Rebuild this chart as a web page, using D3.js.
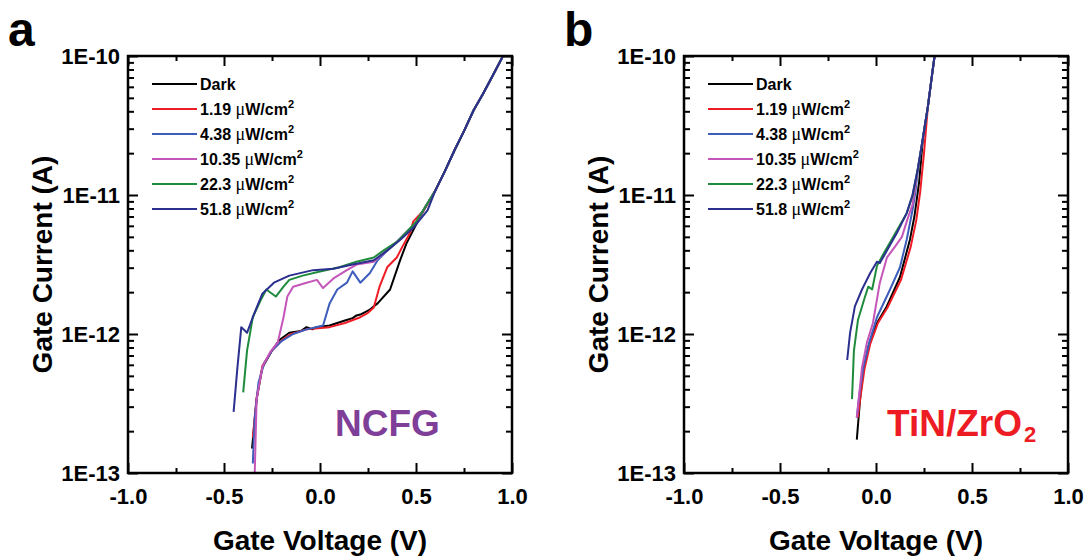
<!DOCTYPE html>
<html>
<head>
<meta charset="utf-8">
<script src="https://cdn.jsdelivr.net/npm/d3@7"></script>
<style>
    body { margin: 0; background: #fff; }
    svg { display: block; font-family: "Liberation Sans", Arial, sans-serif; font-weight: bold; }
</style>
</head>
<body>
<svg id="chart" width="1089" height="560"></svg>
<script>
"use strict";

// legend / series
const seriesNames = ['Dark', '1.19', '4.38', '10.35', '22.3', '51.8'];
const seriesColors = ['#000000', '#ee1c25', '#3d5dbb', '#c456b9', '#1e8b3c', '#2b2f8e'];

// axis ticks
const xMajor = [-1.0, -0.5, 0.0, 0.5, 1.0];
const xMinor = [-0.75, -0.25, 0.25, 0.75];
const yMajor = [1e-13, 1e-12, 1e-11, 1e-10];

// panel a (NCFG): [gate voltage V, gate current A]
const tailA = [[0.6, 1.07e-11], [0.65, 1.48e-11], [0.7, 2.09e-11], [0.75, 2.88e-11],
    [0.8, 4.07e-11], [0.85, 5.37e-11], [0.9, 7.24e-11], [0.953, 1.0e-10]];
const darkA = [[-0.354, 1.5e-13], [-0.33, 3.4e-13], [-0.30, 5.75e-13], [-0.25, 7.6e-13],
    [-0.21, 9.1e-13], [-0.16, 1.02e-12], [-0.1, 1.05e-12], [-0.07, 1.12e-12], [-0.04, 1.08e-12],
    [-0.02, 1.12e-12], [0.05, 1.15e-12], [0.13, 1.25e-12], [0.17, 1.3e-12], [0.19, 1.36e-12],
    [0.21, 1.38e-12], [0.26, 1.5e-12], [0.30, 1.66e-12], [0.365, 2.09e-12], [0.417, 3.39e-12],
    [0.45, 4.47e-12], [0.52, 6.92e-12], [0.59, 1.02e-11]];
const redA = [[-0.35, 1.8e-13], [-0.33, 3.5e-13], [-0.30, 5.9e-13], [-0.25, 7.6e-13],
    [-0.2, 9.0e-13], [-0.15, 1.0e-12], [-0.07, 1.08e-12], [0.05, 1.12e-12], [0.13, 1.2e-12],
    [0.21, 1.32e-12], [0.25, 1.42e-12], [0.28, 1.55e-12], [0.31, 2.19e-12], [0.35, 3.02e-12],
    [0.40, 3.55e-12], [0.43, 4.27e-12], [0.47, 5.37e-12], [0.486, 6.46e-12], [0.54, 7.76e-12],
    [0.57, 9.1e-12]];
const blueA = [[-0.35, 1.17e-13], [-0.34, 2.5e-13], [-0.32, 4.5e-13], [-0.29, 6.2e-13],
    [-0.25, 7.6e-13], [-0.2, 8.9e-13], [-0.14, 1.0e-12], [-0.07, 1.08e-12], [-0.02, 1.12e-12],
    [0.016, 1.15e-12], [0.05, 1.66e-12], [0.09, 2.09e-12], [0.14, 2.34e-12], [0.17, 2.82e-12],
    [0.21, 2.34e-12], [0.26, 2.75e-12], [0.30, 3.39e-12], [0.35, 3.98e-12], [0.40, 4.6e-12],
    [0.45, 5.4e-12], [0.5, 6.3e-12], [0.55, 8.3e-12]];
const magentaA = [[-0.34, 1.0e-13], [-0.33, 3.4e-13], [-0.30, 5.8e-13], [-0.26, 7.4e-13],
    [-0.22, 8.7e-13], [-0.19, 1.32e-12], [-0.17, 1.86e-12], [-0.14, 2.19e-12], [-0.07, 2.34e-12],
    [-0.016, 2.45e-12], [0.016, 2.14e-12], [0.07, 2.51e-12], [0.14, 2.88e-12], [0.19, 3.16e-12],
    [0.24, 3.24e-12], [0.28, 3.31e-12], [0.33, 3.8e-12], [0.4, 4.6e-12], [0.45, 5.4e-12],
    [0.5, 6.3e-12], [0.55, 8.3e-12]];
const greenA = [[-0.40, 3.8e-13], [-0.38, 7.6e-13], [-0.35, 1.32e-12], [-0.31, 1.74e-12],
    [-0.28, 2.09e-12], [-0.23, 1.86e-12], [-0.19, 2.19e-12], [-0.16, 2.45e-12], [-0.09, 2.63e-12],
    [0.0, 2.82e-12], [0.10, 3.02e-12], [0.19, 3.31e-12], [0.28, 3.55e-12], [0.33, 3.98e-12],
    [0.40, 4.6e-12], [0.45, 5.4e-12], [0.5, 6.4e-12], [0.55, 8.3e-12]];
const navyA = [[-0.45, 2.75e-13], [-0.43, 5.75e-13], [-0.41, 1.12e-12], [-0.38, 1.02e-12],
    [-0.35, 1.32e-12], [-0.33, 1.55e-12], [-0.30, 1.95e-12], [-0.24, 2.34e-12], [-0.16, 2.63e-12],
    [-0.036, 2.88e-12], [0.07, 2.95e-12], [0.17, 3.16e-12], [0.28, 3.39e-12], [0.35, 3.98e-12],
    [0.42, 4.79e-12], [0.49, 5.89e-12], [0.56, 7.76e-12]];

// panel b (TiN/ZrO2)
const tailB = [[0.22, 1.6e-11], [0.245, 2.6e-11], [0.27, 4.3e-11], [0.29, 7.0e-11], [0.305, 1.0e-10]];
const darkB = [[-0.10, 1.74e-13], [-0.083, 3.39e-13], [-0.068, 5.25e-13], [-0.04, 8.13e-13],
    [0.005, 1.2e-12], [0.056, 1.58e-12], [0.125, 2.57e-12], [0.177, 4.79e-12], [0.2, 7.0e-12],
    [0.225, 1.25e-11]];
const redB = [[-0.095, 2.5e-13], [-0.08, 3.6e-13], [-0.06, 5.6e-13], [-0.03, 8.5e-13],
    [0.01, 1.2e-12], [0.06, 1.55e-12], [0.13, 2.45e-12], [0.18, 4.2e-12], [0.21, 6.6e-12],
    [0.23, 1.05e-11], [0.25, 2.0e-11]];
const blueB = [[-0.10, 2.5e-13], [-0.085, 3.8e-13], [-0.065, 5.8e-13], [-0.035, 8.7e-13],
    [0.005, 1.32e-12], [0.073, 2.09e-12], [0.125, 3.02e-12], [0.16, 4.79e-12], [0.19, 7.76e-12],
    [0.205, 1.05e-11]];
const magentaB = [[-0.10, 2.5e-13], [-0.073, 5.75e-13], [-0.047, 8.7e-13], [-0.016, 1.2e-12],
    [0.02, 2.34e-12], [0.057, 3.55e-12], [0.10, 4.27e-12], [0.135, 5.0e-12], [0.167, 6.9e-12],
    [0.19, 8.5e-12], [0.205, 1.15e-11]];
const greenB = [[-0.125, 3.4e-13], [-0.115, 7.6e-13], [-0.094, 1.26e-12], [-0.057, 1.86e-12],
    [-0.04, 2.19e-12], [-0.02, 2.09e-12], [0.005, 3.09e-12], [0.04, 3.8e-12], [0.09, 5.0e-12],
    [0.16, 7.4e-12], [0.19, 9.8e-12]];
const navyB = [[-0.15, 6.5e-13], [-0.135, 1.02e-12], [-0.11, 1.58e-12], [-0.073, 2.09e-12],
    [-0.03, 2.75e-12], [0.005, 3.31e-12], [0.02, 3.24e-12], [0.057, 3.98e-12], [0.11, 5.37e-12],
    [0.16, 7.4e-12], [0.19, 1.0e-11]];

const panels = [
    { left: 128, letter: 'a', tag: 'NCFG', tagColor: '#7f3f98', tagX: 335,
      series: [darkA, redA, blueA, magentaA, greenA, navyA].map(s => s.concat(tailA)) },
    { left: 684, letter: 'b', tag: 'TiN/ZrO', tagSub: '2', tagColor: '#ed1c24', tagX: 887,
      series: [darkB, redB, blueB, magentaB, greenB, navyB].map(s => s.concat(tailB.filter(t => t[0] > s[s.length - 1][0]))) }
];

const plotTop = 56, width = 384, height = 417;
const svg = d3.select('#chart');

const x = d3.scaleLinear().domain([-1, 1]).range([0, width]);
const y = d3.scaleLog().domain([1e-13, 1e-10]).range([height, 0]);
const yMinor = [];
yMajor.slice(0, 3).forEach(d => { for (let k = 2; k < 10; k++) yMinor.push(d * k); });

const line = d3.line().x(d => x(d[0])).y(d => y(d[1]));

const styleAxis = (sel) => {
    sel.select('.domain').remove();
    sel.selectAll('line').attr('stroke', '#000').attr('stroke-width', 2);
    sel.selectAll('text').attr('fill', '#000').style('font-size', '22px')
        .style('font-family', '"Liberation Sans", Arial, sans-serif').style('font-weight', 'bold');
};

panels.forEach((p, pi) => {
    const g = svg.append('g').attr('transform', `translate(${p.left},${plotTop})`);

    g.append('clipPath').attr('id', `clip${pi}`)
        .append('rect').attr('width', width).attr('height', height);

    // axes, ticks pointing inward on all four sides
    g.append('g').attr('transform', `translate(0,${height})`)
        .call(d3.axisBottom(x).tickValues(xMajor).tickSize(-10).tickPadding(15)
            .tickFormat(d => d.toFixed(1)))
        .call(styleAxis);
    g.append('g').attr('transform', `translate(0,${height})`)
        .call(d3.axisBottom(x).tickValues(xMinor).tickSize(-5).tickFormat(''))
        .call(styleAxis);
    g.append('g')
        .call(d3.axisTop(x).tickValues(xMajor).tickSize(-10).tickFormat(''))
        .call(styleAxis);
    g.append('g')
        .call(d3.axisTop(x).tickValues(xMinor).tickSize(-5).tickFormat(''))
        .call(styleAxis);
    g.append('g')
        .call(d3.axisLeft(y).tickValues(yMajor).tickSize(-10).tickPadding(8)
            .tickFormat(d => '1E' + Math.round(Math.log10(d))))
        .call(styleAxis);
    g.append('g')
        .call(d3.axisLeft(y).tickValues(yMinor).tickSize(-6).tickFormat(''))
        .call(styleAxis);
    g.append('g').attr('transform', `translate(${width},0)`)
        .call(d3.axisRight(y).tickValues(yMajor).tickSize(-10).tickFormat(''))
        .call(styleAxis);
    g.append('g').attr('transform', `translate(${width},0)`)
        .call(d3.axisRight(y).tickValues(yMinor).tickSize(-6).tickFormat(''))
        .call(styleAxis);

    // curves
    g.append('g').attr('clip-path', `url(#clip${pi})`)
        .selectAll('path')
        .data(p.series)
        .enter()
        .append('path')
        .attr('d', line)
        .attr('fill', 'none')
        .attr('stroke', (d, i) => seriesColors[i])
        .attr('stroke-width', 2)
        .attr('stroke-linejoin', 'round');

    g.append('rect')
        .attr('width', width).attr('height', height)
        .attr('fill', 'none').attr('stroke', '#000').attr('stroke-width', 2.5);

    // legend
    const legend = g.selectAll('.legend')
        .data(seriesNames)
        .enter()
        .append('g')
        .attr('transform', (d, i) => `translate(0,${34 + i * 25})`);
    legend.append('line')
        .attr('x1', 24).attr('x2', 69).attr('y1', -6).attr('y2', -6)
        .attr('stroke', (d, i) => seriesColors[i]).attr('stroke-width', 2);
    const lt = legend.append('text').attr('x', 72).style('font-size', '16px');
    lt.append('tspan').text(d => d === 'Dark' ? d : d + ' ');
    lt.filter(d => d !== 'Dark').append('tspan')
        .style('font-family', '"Liberation Serif", serif').style('font-weight', 'normal')
        .style('font-size', '18px').text('\u03bc');
    lt.filter(d => d !== 'Dark').append('tspan').text('W/cm');
    lt.filter(d => d !== 'Dark').append('tspan').attr('dy', -7).style('font-size', '11px').text('2');

    // material tag
    const tag = svg.append('text')
        .attr('x', p.tagX).attr('y', 436)
        .attr('fill', p.tagColor).style('font-size', '37px')
        .text(p.tag);
    if (p.tagSub) {
        tag.append('tspan').attr('dx', 2).attr('dy', 6).style('font-size', '22px').text(p.tagSub);
    }

    // panel letter
    svg.append('text')
        .attr('x', p.left - 120).attr('y', 46)
        .style('font-size', '48px')
        .text(p.letter);

    // axis titles
    svg.append('text')
        .attr('x', p.left + width / 2).attr('y', 550)
        .attr('text-anchor', 'middle').style('font-size', '28px')
        .text('Gate Voltage (V)');
    svg.append('text')
        .attr('transform', `translate(${p.left - 76},${plotTop + height / 2}) rotate(-90)`)
        .attr('text-anchor', 'middle').style('font-size', '28px')
        .text('Gate Current (A)');
});
</script>
</body>
</html>
